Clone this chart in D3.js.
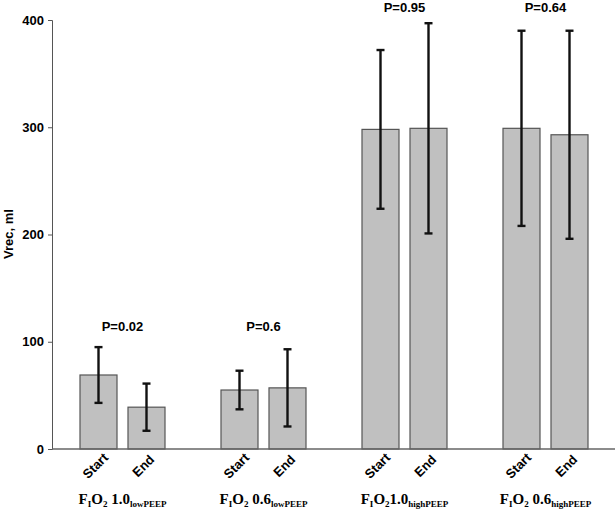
<!DOCTYPE html>
<html><head><meta charset="utf-8">
<script src="https://cdn.jsdelivr.net/npm/d3@7"></script>
<style>body{margin:0;background:#fff}svg{display:block}</style>
</head><body>
<svg id="c" width="615" height="514"></svg>
<script>
const groups = ["F1.0low", "F0.6low", "F1.0high", "F0.6high"];
const groupLabels = [
  {pre: "1.0", sub: "lowPEEP", space: true},
  {pre: "0.6", sub: "lowPEEP", space: true},
  {pre: "1.0", sub: "highPEEP", space: false},
  {pre: "0.6", sub: "highPEEP", space: true}
];
const phases = ["Start", "End"];
const startValues = [69, 55, 298, 299];
const endValues = [39, 57, 299, 293];
const startSD = [26, 18, 74, 91];
const endSD = [22, 36, 98, 97];
const pValues = ["P=0.02", "P=0.6", "P=0.95", "P=0.64"];
const yTicks = [0, 100, 200, 300, 400];

const SANS = "Liberation Sans, Arial, sans-serif";
const svg = d3.select("#c");
const y = d3.scaleLinear().domain([0, 400]).range([449, 20]);
const pi = 56/141;
const x0 = d3.scaleBand().domain(groups).range([52, 616]).paddingInner(pi).paddingOuter(pi/2);
const x1 = d3.scaleBand().domain(phases).range([0, x0.bandwidth()]).paddingInner(11/48).paddingOuter(0);

// y axis
const yAxis = d3.axisLeft(y).tickValues(yTicks).tickSize(4).tickPadding(4);
const ga = svg.append("g").attr("transform", "translate(52,0)").call(yAxis);
ga.select(".domain").attr("stroke", "#555").attr("stroke-width", 1);
ga.selectAll(".tick line").attr("stroke", "#555");
ga.selectAll(".tick text").attr("font-family", SANS).attr("font-weight", "bold").attr("font-size", 13).attr("fill", "#000");

svg.append("text").attr("transform", "translate(13,234) rotate(-90)")
  .attr("text-anchor", "middle").attr("font-family", SANS)
  .attr("font-weight", "bold").attr("font-size", 13).text("Vrec, ml");

// data rows
const rows = [];
groups.forEach((g, i) => {
  rows.push({g, i, phase: "Start", v: startValues[i], sd: startSD[i]});
  rows.push({g, i, phase: "End", v: endValues[i], sd: endSD[i]});
});

svg.append("g").selectAll("rect").data(rows).join("rect")
  .attr("x", d => x0(d.g) + x1(d.phase))
  .attr("width", x1.bandwidth())
  .attr("y", d => y(d.v))
  .attr("height", d => y(0) - y(d.v))
  .attr("fill", "#c0c0c0").attr("stroke", "#555").attr("stroke-width", 1.2);

// baseline
svg.append("line").attr("x1", 52).attr("x2", 615).attr("y1", y(0)).attr("y2", y(0))
  .attr("stroke", "#666").attr("stroke-width", 1.5);

// error bars
const eb = svg.append("g").attr("stroke", "#111").attr("stroke-width", 2.4);
rows.forEach(d => {
  const cx = x0(d.g) + x1(d.phase) + x1.bandwidth()/2;
  eb.append("line").attr("x1", cx).attr("x2", cx).attr("y1", y(d.v + d.sd)).attr("y2", y(d.v - d.sd));
  [d.v + d.sd, d.v - d.sd].forEach(v => {
    eb.append("line").attr("x1", cx - 4).attr("x2", cx + 4).attr("y1", y(v)).attr("y2", y(v));
  });
});

// P labels
groups.forEach((g, i) => {
  const yy = i < 2 ? 331 : 12;
  svg.append("text").attr("x", x0(g) + x0.bandwidth()/2).attr("y", yy)
    .attr("text-anchor", "middle").attr("font-family", SANS)
    .attr("font-weight", "bold").attr("font-size", 13).text(pValues[i]);
});

// phase labels
rows.forEach(d => {
  const cx = x0(d.g) + x1(d.phase) + x1.bandwidth()/2;
  svg.append("text").attr("transform", `translate(${cx},${469}) rotate(-45)`)
    .attr("text-anchor", "middle").attr("font-family", SANS)
    .attr("font-weight", "bold").attr("font-size", 13).text(d.phase);
});

// group labels
groups.forEach((g, i) => {
  const L = groupLabels[i];
  const t = svg.append("text").attr("x", x0(g) + x0.bandwidth()/2).attr("y", 504)
    .attr("text-anchor", "middle").attr("font-family", "Liberation Serif, Times New Roman, serif")
    .attr("font-weight", "bold").attr("font-size", 15);
  t.append("tspan").text("F");
  t.append("tspan").attr("font-size", 9).attr("dy", 3).text("I");
  t.append("tspan").attr("dy", -3).text("O");
  t.append("tspan").attr("font-size", 9).attr("dy", 3).text("2");
  t.append("tspan").attr("dy", -3).text((L.space ? " " : "") + L.pre);
  t.append("tspan").attr("font-size", 9).attr("dy", 3).text(L.sub);
});
</script>
</body></html>
